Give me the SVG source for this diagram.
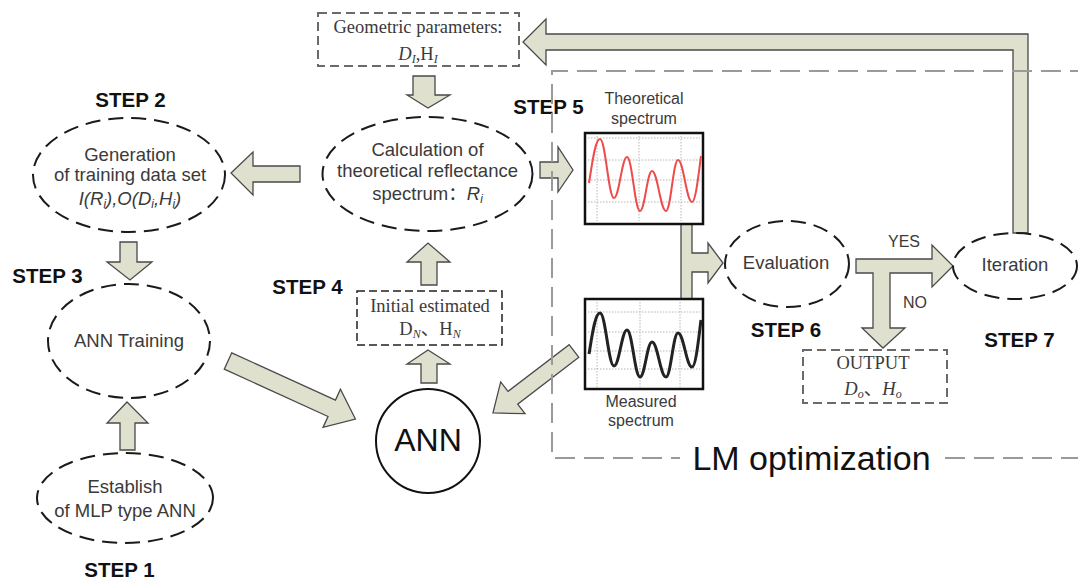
<svg xmlns="http://www.w3.org/2000/svg" width="1078" height="580" viewBox="0 0 1078 580">
<defs>
<style>
.bg{fill:#ffffff}
.ell{fill:none;stroke:#1a1a1a;stroke-width:2;stroke-dasharray:15 8}
.gbox{fill:#ffffff;stroke:#6a6a6a;stroke-width:2;stroke-dasharray:9 5}
.ibox{fill:#ffffff;stroke:#222;stroke-width:1.5;stroke-dasharray:8 4}
.arr{fill:#dfe0cd;stroke:#4a4a4a;stroke-width:1.3;stroke-linejoin:miter}
.lm{fill:none;stroke:#9a9a9a;stroke-width:2;stroke-dasharray:20 9}
.lbl{font-family:"Liberation Sans",Arial,"Noto Sans CJK SC",sans-serif;font-size:18.5px;fill:#3a3a3a;text-anchor:middle}
.ser{font-family:"Liberation Serif","Times New Roman","Noto Sans CJK SC",serif;font-size:18.5px;fill:#3a3a3a;text-anchor:middle}
.step{font-family:"Liberation Sans",Arial,sans-serif;font-size:20.5px;font-weight:bold;fill:#111;text-anchor:middle}
.small{font-family:"Liberation Sans",Arial,sans-serif;font-size:16px;fill:#3a3a3a;text-anchor:middle}
.spbox{fill:#ffffff;stroke:#111;stroke-width:2.5}
.grid{fill:none;stroke:#b5b5b5;stroke-width:1;stroke-dasharray:1.5 1.5}
</style>
</defs>
<rect class="bg" x="0" y="0" width="1078" height="580"/>

<g id="connectors">
  <!-- feedback arrow Iteration -> Geometric parameters -->
  <polygon class="arr" points="523,42 546,19 546,34 1028,34 1028,233 1013,233 1013,50 546,50 546,65"/>
  <!-- Geometric -> Calculation -->
  <polygon class="arr" points="413,76 435,76 435,95 450,95 428,108 407,95 413,95"/>
  <!-- Calculation -> Generation -->
  <polygon class="arr" points="300,166 300,182 253,182 253,195 231,173 253,152 253,166"/>
  <!-- Calculation -> Theoretical spectrum -->
  <polygon class="arr" points="540,162 558,162 558,147 573,170 558,192 558,178 540,178"/>
  <!-- Generation -> ANN Training -->
  <polygon class="arr" points="120,242 137,242 137,262 152,262 130,280 107,262 120,262"/>
  <!-- Establish -> ANN Training -->
  <polygon class="arr" points="120,450 135,450 135,423 148,423 127,402 107,423 120,423"/>
  <!-- ANN Training -> ANN -->
  <polygon class="arr" transform="translate(228,361) rotate(24.5)" points="0,-9 114,-9 114,-21 140,0 114,21 114,9 0,9"/>
  <!-- Measured -> ANN -->
  <polygon class="arr" transform="translate(574,351) rotate(142.6)" points="0,-8 77,-8 77,-20 102,0 77,20 77,8 0,8"/>
  <!-- ANN -> Initial estimated -->
  <polygon class="arr" points="421,383 437,383 437,364 450,364 428,350 407,364 421,364"/>
  <!-- Initial estimated -> Calculation -->
  <polygon class="arr" points="421,285 437,285 437,262 450,262 428,243 407,262 421,262"/>
  <!-- spectra -> Evaluation -->
  <polygon class="arr" points="681,224 692,224 692,253 708,253 708,243 723,263 708,283 708,272 692,272 692,299 681,299"/>
  <!-- Evaluation -> Iteration (YES) / OUTPUT (NO) -->
  <polygon class="arr" points="856,259 932,259 932,245 953,266 932,287 932,273 890,273 890,328 905,328 883,348 862,328 873,328 873,273 856,273"/>
  <text class="small" x="904" y="247">YES</text>
  <text class="small" x="915" y="308">NO</text>
</g>

<g id="geometric-parameters">
  <rect class="gbox" x="318" y="13" width="201" height="53"/>
  <text class="ser" x="418" y="33">Geometric parameters:</text>
  <text class="ser" x="418" y="60"><tspan font-style="italic">D</tspan><tspan font-style="italic" font-size="12" dy="3">I</tspan><tspan dy="-3">,H</tspan><tspan font-style="italic" font-size="12" dy="3">I</tspan></text>
</g>

<g id="step2-generation">
  <text class="step" x="130.5" y="107">STEP 2</text>
  <ellipse class="ell" cx="129" cy="175" rx="96" ry="57"/>
  <text class="lbl" x="130" y="161">Generation</text>
  <text class="lbl" x="130" y="181">of training data set</text>
  <text class="lbl" x="130" y="205" font-style="italic">I(R<tspan font-size="12" dy="3">i</tspan><tspan dy="-3">),O(D</tspan><tspan font-size="12" dy="3">i</tspan><tspan dy="-3">,H</tspan><tspan font-size="12" dy="3">i</tspan><tspan dy="-3">)</tspan></text>
</g>

<g id="calculation">
  <ellipse class="ell" cx="427.5" cy="174" rx="105" ry="57"/>
  <text class="lbl" x="427.5" y="156">Calculation of</text>
  <text class="lbl" x="427.5" y="177">theoretical reflectance</text>
  <text class="lbl" x="427.5" y="200">spectrum：<tspan font-style="italic">R</tspan><tspan font-style="italic" font-size="12" dy="3">i</tspan></text>
</g>

<g id="step5-label">
  <text class="step" x="548.5" y="114">STEP 5</text>
</g>

<g id="theoretical-spectrum">
  <text class="small" x="644" y="103.5">Theoretical</text>
  <text class="small" x="644" y="124">spectrum</text>
  <rect class="spbox" x="585" y="133" width="118" height="91"/>
  <path class="grid" d="M597,136 V221 M639,136 V221 M681,136 V221 M588,138 H700 M588,160 H700 M588,180 H700 M588,202 H700"/>
  <path fill="none" stroke="#ee4b4b" stroke-width="2" d="M589,183 C592,165 595,139 600,139 C605.6,139 608.4,198 614,198 C619.2,198 621.8,157 627,157 C632.2,157 634.8,211 640,211 C644.8,211 647.2,171 652,171 C657.6,171 660.4,211 666,211 C670.8,211 673.2,160 678,160 C683.6,160 686.4,202 692,202 C696,202 699,170 701,156"/>
</g>

<g id="measured-spectrum">
  <rect class="spbox" x="585" y="299" width="118" height="90"/>
  <path class="grid" d="M597,302 V387 M640,302 V387 M680,302 V387 M588,312 H700 M588,332 H700 M588,351 H700 M588,369 H700"/>
  <path fill="none" stroke="#222" stroke-width="3" d="M589,354 C592,336 595,313 600,313 C605.6,313 608.4,366 614,366 C619.2,366 621.8,330 627,330 C632.2,330 634.8,377 640,377 C644.8,377 647.2,342 652,342 C657.6,342 660.4,377 666,377 C670.8,377 673.2,333 678,333 C683.6,333 686.4,367 692,367 C696,367 699,335 701,320"/>
  <text class="small" x="641" y="407">Measured</text>
  <text class="small" x="641" y="426">spectrum</text>
</g>

<g id="step3-ann-training">
  <text class="step" x="47.5" y="283">STEP 3</text>
  <ellipse class="ell" cx="129" cy="341" rx="81" ry="57"/>
  <text class="lbl" x="129" y="347">ANN Training</text>
</g>

<g id="step1-establish">
  <ellipse class="ell" cx="125" cy="498" rx="88" ry="45"/>
  <text class="lbl" x="125" y="493">Establish</text>
  <text class="lbl" x="125" y="517">of MLP type ANN</text>
  <text class="step" x="119.5" y="577">STEP 1</text>
</g>

<g id="step4-initial-estimated">
  <text class="step" x="307.5" y="294">STEP 4</text>
  <rect class="ibox" x="357" y="291" width="145" height="54"/>
  <text class="ser" x="430" y="312" font-size="19">Initial estimated</text>
  <text class="ser" x="430" y="335">D<tspan font-style="italic" font-size="12" dy="3">N</tspan><tspan dy="-3">、H</tspan><tspan font-style="italic" font-size="12" dy="3">N</tspan></text>
</g>

<g id="ann">
  <circle cx="428" cy="441" r="52" fill="#ffffff" stroke="#111" stroke-width="2"/>
  <text x="428" y="451" font-family="'Liberation Sans',Arial,sans-serif" font-size="32" fill="#111" text-anchor="middle">ANN</text>
</g>

<g id="step6-evaluation">
  <ellipse class="ell" cx="787" cy="264" rx="62" ry="43"/>
  <text class="lbl" x="786" y="269">Evaluation</text>
  <text class="step" x="786" y="337">STEP 6</text>
</g>

<g id="step7-iteration">
  <ellipse class="ell" cx="1015" cy="266" rx="62" ry="33"/>
  <text class="lbl" x="1015" y="271">Iteration</text>
  <text class="step" x="1019.5" y="347">STEP 7</text>
</g>

<g id="output">
  <rect class="gbox" x="803" y="350" width="144" height="53"/>
  <text class="ser" x="873" y="369">OUTPUT</text>
  <text class="ser" x="873" y="395"><tspan font-style="italic">D</tspan><tspan font-style="italic" font-size="12" dy="3">o</tspan><tspan dy="-3">、</tspan><tspan font-style="italic">H</tspan><tspan font-style="italic" font-size="12" dy="3">o</tspan></text>
</g>

<g id="lm-optimization">
  <path class="lm" d="M1090,71 H552 V458 H680 M945,458 H1090"/>
  <text x="811.5" y="470" font-family="'Liberation Sans',Arial,sans-serif" font-size="34" fill="#111" text-anchor="middle">LM optimization</text>
</g>
</svg>
